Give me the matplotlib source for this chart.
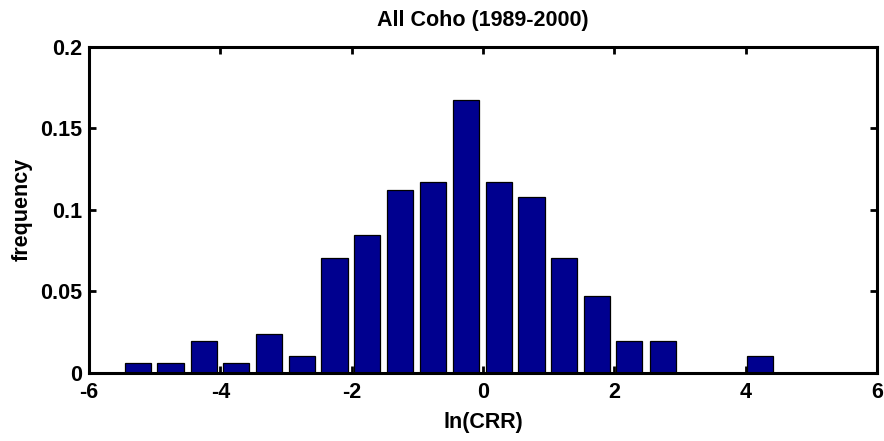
import matplotlib
matplotlib.use("Agg")
import matplotlib.pyplot as plt

# Bin centres of ln(CRR) histogram and relative frequencies
bin_centers = [-5.25, -4.76, -4.25, -3.76, -3.26, -2.76, -2.26, -1.77, -1.26, -0.76,
               -0.26, 0.24, 0.74, 1.23, 1.74, 2.22, 2.74, 3.23, 3.72, 4.22]
frequency = [0.0058, 0.0058, 0.0195, 0.0058, 0.0240, 0.0103, 0.0706, 0.0846, 0.1124, 0.1169,
             0.1672, 0.1169, 0.1077, 0.0706, 0.0474, 0.0195, 0.0195, 0.0, 0.0, 0.0103]
bar_width = 0.40

x_ticks = [-6, -4, -2, 0, 2, 4, 6]
y_ticks = [0, 0.05, 0.1, 0.15, 0.2]
y_tick_labels = ["0", "0.05", "0.1", "0.15", "0.2"]

title = "All Coho (1989-2000)"
x_label = "ln(CRR)"
y_label = "frequency"

plt.rcParams['font.family'] = ['Liberation Sans', 'DejaVu Sans']
plt.rcParams['font.weight'] = 'bold'

fig = plt.figure(figsize=(8.84, 4.41), dpi=100)
ax = fig.add_axes([0.1007, 0.1549, 0.8914, 0.7385])

nonzero = [(c, f) for c, f in zip(bin_centers, frequency) if f > 0]
ax.bar([c for c, _ in nonzero], [f for _, f in nonzero], width=bar_width,
       color='#00008F', edgecolor='black', linewidth=0.9, zorder=2)

ax.set_xlim(-6, 6)
ax.set_ylim(0, 0.2)
ax.set_xticks(x_ticks)
ax.set_xticklabels([str(t) for t in x_ticks])
ax.set_yticks(y_ticks)
ax.set_yticklabels(y_tick_labels)

fs = 15.5
ax.tick_params(axis='both', which='both', direction='in', length=5, width=2,
               top=True, right=True, labelsize=fs)
ax.tick_params(axis='x', pad=7)
ax.tick_params(axis='y', pad=5)
for lab in ax.get_xticklabels() + ax.get_yticklabels():
    lab.set_fontweight('bold')
for s in ax.spines.values():
    s.set_linewidth(2.2)
    s.set_zorder(3)

ax.set_title(title, fontsize=fs, fontweight='bold', pad=15)
ax.set_xlabel(x_label, fontsize=fs, fontweight='bold', labelpad=6)
ax.set_ylabel(y_label, fontsize=fs, fontweight='bold', labelpad=5)

fig.savefig("out.png", dpi=100)
